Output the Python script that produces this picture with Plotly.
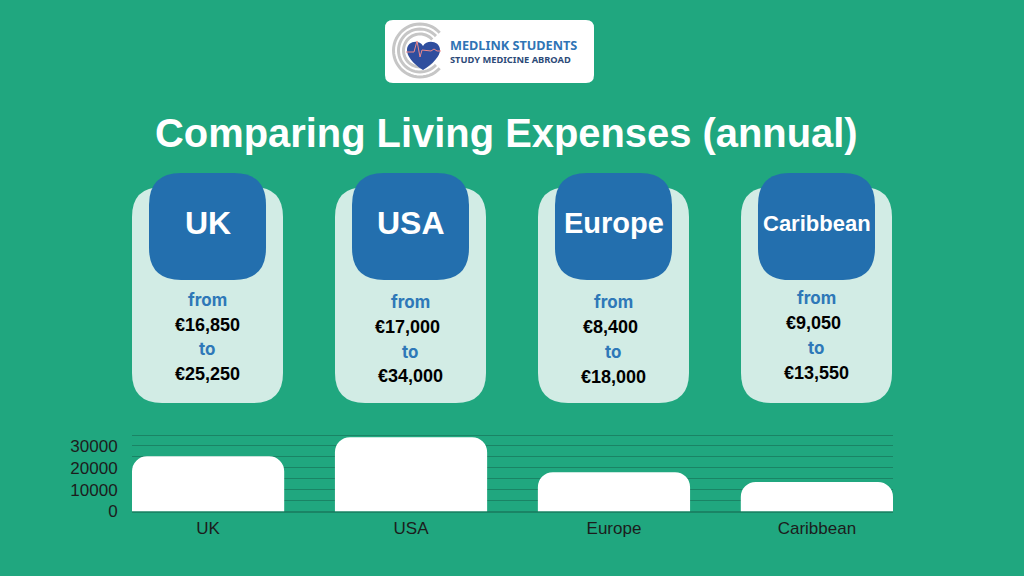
import math
import plotly.graph_objects as go

# data
regions = ["UK", "USA", "Europe", "Caribbean"]
cost_from = [16850, 17000, 8400, 9050]
cost_to = [25250, 34000, 18000, 13550]
y_ticks = [0, 10000, 20000, 30000]

W, H = 1024, 576
GREEN = "#20a77f"
BLUE = "#236fae"
PALE = "#d2ece5"
FONT = "Liberation Sans"


def px_x(x):
    return x / W


def px_y(y):
    return 1 - y / H


def pt(x, y):
    return f"{px_x(x):.5f},{px_y(y):.5f}"


def rounded(x0, y0, x1, y1, r):
    # rounded rectangle as svg path, paper coords
    return (
        f"M{pt(x0 + r, y0)} L{pt(x1 - r, y0)} Q{pt(x1, y0)} {pt(x1, y0 + r)} "
        f"L{pt(x1, y1 - r)} Q{pt(x1, y1)} {pt(x1 - r, y1)} "
        f"L{pt(x0 + r, y1)} Q{pt(x0, y1)} {pt(x0, y1 - r)} "
        f"L{pt(x0, y0 + r)} Q{pt(x0, y0)} {pt(x0 + r, y0)} Z"
    )


def box(x0, y0, x1, y1, r, color):
    return dict(type="path", xref="paper", yref="paper", path=rounded(x0, y0, x1, y1, r),
                fillcolor=color, line_width=0, layer="below")


def arc(cx, cy, r, a0, a1, color, width):
    n = 40
    p = []
    for i in range(n + 1):
        a = math.radians(a0 + (a1 - a0) * i / n)
        p.append(pt(cx + r * math.cos(a), cy - r * math.sin(a)))
    return dict(type="path", xref="paper", yref="paper", path="M" + " L".join(p),
                line=dict(color=color, width=width), layer="below")


def label(x, y, text, size, color, bold=True, font=FONT):
    return dict(xref="paper", yref="paper", x=px_x(x), y=px_y(y), text=f"<b>{text}</b>" if bold else text,
                showarrow=False, xanchor="center", yanchor="middle",
                font=dict(family=font, size=size, color=color))


# card geometry and text offsets per card
card_left = [132, 335, 538, 741]
head_left = [149, 352, 555, 758]
text_x = [207, 410, 613, 816]
from_val_x = [207, 407.5, 610.5, 813.5]
head_x = [207.5, 411, 613.5, 816.5]
head_y = [223, 223, 223, 224]
head_size = [32, 32, 29, 22]
row_y = [[300, 325, 349, 374], [302, 327, 352, 376], [302, 327, 352, 377], [298, 323, 348, 373]]

shapes = []
annos = []
for i, name in enumerate(regions):
    shapes.append(box(card_left[i], 187, card_left[i] + 151, 403, 30, PALE))
    shapes.append(box(head_left[i], 173, head_left[i] + 117, 280, 32, BLUE))
    annos.append(label(head_x[i], head_y[i], name, head_size[i], "white"))
    ry = row_y[i]
    annos.append(label(text_x[i], ry[0], "from", 17, "#2e78b8", True, "Inter"))
    annos.append(label(from_val_x[i], ry[1], f"€{cost_from[i]:,}", 18, "black"))
    annos.append(label(text_x[i], ry[2], "to", 17, "#2e78b8", True, "Inter"))
    annos.append(label(text_x[i], ry[3], f"€{cost_to[i]:,}", 18, "black"))

# logo
shapes.append(box(385, 20, 594, 83, 8, "white"))
for r in [26.5, 21.5, 16.5]:
    shapes.append(arc(420, 50.5, r, 42, 318, "#c6c6c6", 3))
heart = (
    f"M{pt(423, 70)} "
    f"C{pt(412, 63)} {pt(407, 56)} {pt(407, 50)} "
    f"C{pt(407, 41)} {pt(419, 39)} {pt(423, 46)} "
    f"C{pt(427, 39)} {pt(440, 41)} {pt(440, 50)} "
    f"C{pt(440, 56)} {pt(434, 63)} {pt(423, 70)} Z"
)
shapes.append(dict(type="path", xref="paper", yref="paper", path=heart,
                   fillcolor="#2f4e9e", line_width=0, layer="below"))
ecg = [(406, 52), (414, 52), (417, 41), (420, 57), (422, 50), (431, 51), (434, 49), (437, 51), (441, 51)]
shapes.append(dict(type="path", xref="paper", yref="paper",
                   path="M" + " L".join(pt(a, b) for a, b in ecg),
                   line=dict(color="#ef8a8a", width=1), layer="below"))
annos.append(dict(xref="paper", yref="paper", x=px_x(447.5), y=px_y(45), xanchor="left", yanchor="middle",
                  text="<b>MEDLINK STUDENTS</b>", showarrow=False,
                  font=dict(family="Noto Sans", size=12.7, color="#2f74b5")))
annos.append(dict(xref="paper", yref="paper", x=px_x(447.5), y=px_y(59), xanchor="left", yanchor="middle",
                  text="<b>STUDY MEDICINE ABROAD</b>", showarrow=False,
                  font=dict(family="Noto Sans", size=9.3, color="#2c4a78")))

# title
annos.append(label(506.5, 133, "Comparing Living Expenses (annual)", 39.9, "white"))

fig = go.Figure(go.Bar(x=regions, y=cost_to, width=0.75, marker=dict(color="white", line_width=0)))

grid_vals = list(range(0, 35001, 5000))
fig.update_layout(
    width=W, height=H,
    margin=dict(l=0, r=0, t=0, b=0),
    paper_bgcolor=GREEN, plot_bgcolor=GREEN,
    showlegend=False,
    barcornerradius=15,
    shapes=shapes,
    annotations=annos,
    font=dict(family=FONT),
    xaxis=dict(domain=[px_x(132), px_x(893)], range=[-0.375, 3.375], showgrid=False, automargin=False,
               ticks="outside", ticklen=1, tickcolor="rgba(0,0,0,0)",
               tickfont=dict(size=17, color="#1c1c1c"), showline=False, zeroline=False),
    # range a bit past 35000, plotly drops a gridline sitting right on the edge
    yaxis=dict(domain=[px_y(511.5), px_y(433.7)], range=[0, 35600], automargin=False,
               tickvals=grid_vals,
               ticktext=[str(v) if v in y_ticks else "" for v in grid_vals],
               gridcolor="#1a8465", gridwidth=1, zeroline=True, zerolinecolor="#1a8465",
               ticks="outside", ticklen=10, tickcolor="rgba(0,0,0,0)",
               tickfont=dict(size=17, color="#1c1c1c")),
)

fig.write_html("out.html", config={"displayModeBar": False},
               post_script="document.body.style.margin='0';")
